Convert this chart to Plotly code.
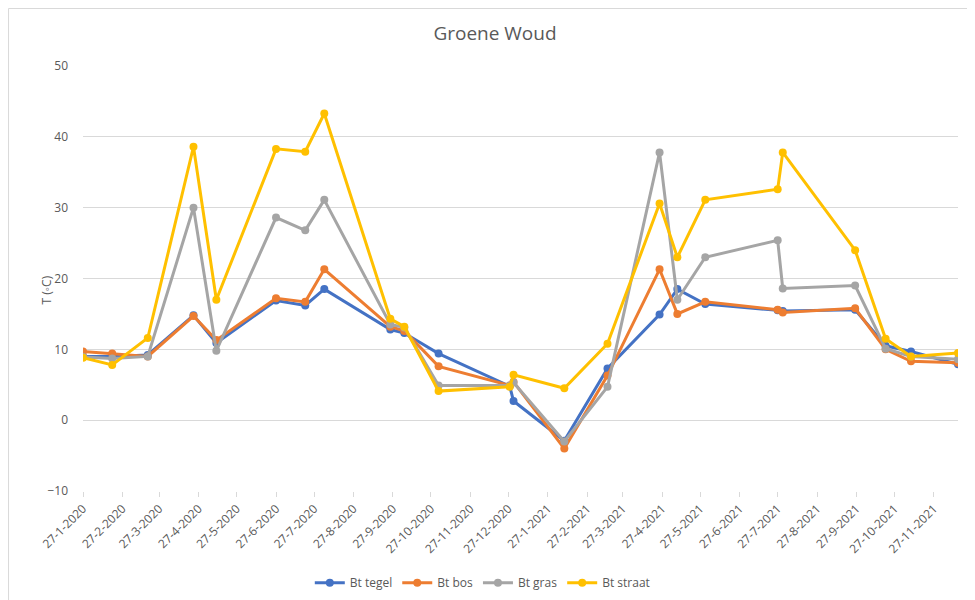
import plotly.graph_objects as go
import pandas as pd

# measurement dates
dates = [
    "2020-01-27", "2020-02-19", "2020-03-18", "2020-04-23", "2020-05-11",
    "2020-06-27", "2020-07-20", "2020-08-04", "2020-09-25", "2020-10-06",
    "2020-11-02", "2020-12-28", "2020-12-31", "2021-02-09", "2021-03-15",
    "2021-04-25", "2021-05-09", "2021-05-31", "2021-07-27", "2021-07-31",
    "2021-09-26", "2021-10-20", "2021-11-09", "2021-12-16",
]

bt_tegel = [9.0, 9.0, 9.2, 14.8, 10.9, 16.9, 16.2, 18.5, 12.8, 12.3,
            9.4, 4.8, 2.7, -2.9, 7.3, 14.9, 18.5, 16.4, 15.5, 15.4,
            15.6, 10.5, 9.7, 7.9]
bt_bos = [9.7, 9.4, 9.0, 14.7, 11.3, 17.2, 16.7, 21.3, 13.2, 12.6,
          7.6, 4.9, 5.4, -4.0, 6.3, 21.3, 15.0, 16.7, 15.6, 15.2,
          15.8, 10.0, 8.3, 8.1]
bt_gras = [8.9, 8.7, 9.0, 30.0, 9.8, 28.6, 26.8, 31.1, 13.5, 13.1,
           4.9, 4.9, 5.3, -3.0, 4.7, 37.8, 17.0, 23.0, 25.4, 18.6,
           19.0, 10.1, 9.0, 8.6]
bt_straat = [8.8, 7.8, 11.6, 38.6, 17.0, 38.3, 37.9, 43.3, 14.3, 13.2,
             4.1, 4.7, 6.4, 4.5, 10.8, 30.6, 23.0, 31.1, 32.6, 37.8,
             24.0, 11.5, 9.0, 9.5]

# tick labels on the 27th of every month
tick_labels = [
    "27-1-2020", "27-2-2020", "27-3-2020", "27-4-2020", "27-5-2020", "27-6-2020",
    "27-7-2020", "27-8-2020", "27-9-2020", "27-10-2020", "27-11-2020", "27-12-2020",
    "27-1-2021", "27-2-2021", "27-3-2021", "27-4-2021", "27-5-2021", "27-6-2021",
    "27-7-2021", "27-8-2021", "27-9-2021", "27-10-2021", "27-11-2021",
]

series = [
    ("Bt tegel", bt_tegel, "#4472C4"),
    ("Bt bos", bt_bos, "#ED7D31"),
    ("Bt gras", bt_gras, "#A5A5A5"),
    ("Bt straat", bt_straat, "#FFC000"),
]

tick_dates = pd.to_datetime(tick_labels, format="%d-%m-%Y")
x = pd.to_datetime(dates)

fig = go.Figure()
for name, vals, color in series:
    fig.add_trace(
        go.Scatter(
            x=x,
            y=vals,
            name=name,
            mode="lines+markers",
            line=dict(color=color, width=3),
            marker=dict(color=color, size=8),
        )
    )

font = "Open Sans, Noto Sans, sans-serif"

# page has an 8px body margin, so the figure is a bit smaller than the window
fig.update_layout(
    width=967,
    height=592,
    autosize=False,
    paper_bgcolor="white",
    plot_bgcolor="white",
    margin=dict(l=75, r=17, t=58, b=109, autoexpand=False),
    font=dict(family=font, color="#595959", size=12),
    title=dict(
        text="Groene Woud",
        x=0.5036,
        xref="container",
        xanchor="center",
        y=1 - 25 / 592,
        yanchor="middle",
        font=dict(size=19, color="#595959"),
    ),
    showlegend=True,
    legend=dict(
        orientation="h",
        x=0.491,
        xref="container",
        xanchor="center",
        y=-0.216,
        yanchor="middle",
        font=dict(size=12, color="#595959"),
    ),
    xaxis=dict(
        type="date",
        range=[x[0], x[-1]],
        tickmode="array",
        tickvals=tick_dates,
        ticktext=tick_labels,
        tickangle=-45,
        showgrid=False,
        showline=False,
        zeroline=False,
        automargin=False,
        ticks="outside",
        ticklen=5,
        tickcolor="#d9d9d9",
        tickfont=dict(size=12, color="#595959"),
    ),
    yaxis=dict(
        range=[-10, 50],
        dtick=10,
        showgrid=True,
        gridcolor="#d9d9d9",
        gridwidth=1,
        zeroline=False,
        showline=False,
        automargin=False,
        ticks="",
        ticklabelstandoff=14,
        tickfont=dict(size=12, color="#595959"),
    ),
    annotations=[
        dict(
            text="T (◦C)",
            xref="paper",
            yref="paper",
            x=-0.0526,
            y=0.473,
            textangle=-90,
            showarrow=False,
            font=dict(size=12, color="#595959"),
        )
    ],
    shapes=[
        dict(
            type="rect",
            xref="paper",
            yref="paper",
            x0=-0.0851,
            x1=1.2,
            y0=-0.5,
            y1=1.1353,
            line=dict(color="#d9d9d9", width=1),
            fillcolor="rgba(0,0,0,0)",
            layer="below",
        )
    ],
)

fig.write_html("out.html")
